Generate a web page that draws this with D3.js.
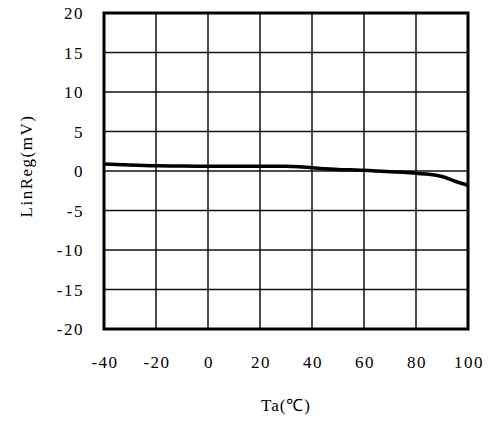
<!DOCTYPE html>
<html>
<head>
<meta charset="utf-8">
<script src="https://cdn.jsdelivr.net/npm/d3@7"></script>
<style>
body { margin: 0; background: #fff; }
text { font-family: "Liberation Serif", "Times New Roman", serif; }
</style>
</head>
<body>
<div id="chart"></div>
<script>
var width = 494
var height = 421
// temperature (C) and line regulation (mV)
var temps = [-40, -30, -20, -10, 0, 10, 20, 30, 35, 40, 45, 50, 55, 60, 65, 70, 75, 80, 85, 90, 95, 100];
var linreg = [0.9, 0.75, 0.65, 0.62, 0.6, 0.6, 0.6, 0.6, 0.55, 0.4, 0.3, 0.2, 0.15, 0.1, 0.0, -0.1, -0.15, -0.3, -0.4, -0.7, -1.3, -1.8];
var xTicks = [-40, -20, 0, 20, 40, 60, 80, 100];
var yTicks = [-20, -15, -10, -5, 0, 5, 10, 15, 20];

var margin = {left: 104, right: 26, top: 13, bottom: 92};
const svg = d3.select("#chart")
    .append('svg')
    .attr('width', width)
    .attr('height', height);

var x = d3.scaleLinear().domain([-40, 100]).range([margin.left, width - margin.right]);
var y = d3.scaleLinear().domain([-20, 20]).range([height - margin.bottom, margin.top]);

// grid
svg.append("g")
    .selectAll("line")
    .data(xTicks)
    .enter()
    .append("line")
    .attr("x1", d => x(d)).attr("x2", d => x(d))
    .attr("y1", y(-20)).attr("y2", y(20))
    .style("stroke", "#111")
    .style("stroke-width", 1.5);
svg.append("g")
    .selectAll("line")
    .data(yTicks)
    .enter()
    .append("line")
    .attr("y1", d => y(d)).attr("y2", d => y(d))
    .attr("x1", x(-40)).attr("x2", x(100))
    .style("stroke", "#111")
    .style("stroke-width", 1.5);

// tick labels
svg.append("g")
    .selectAll("text")
    .data(xTicks)
    .enter()
    .append("text")
    .attr("x", d => x(d) + 1)
    .attr("y", y(-20) + 39)
    .attr("text-anchor", "middle")
    .style("font-size", "17px")
    .style("letter-spacing", "1.5px")
    .text(d => d);
svg.append("g")
    .selectAll("text")
    .data(yTicks)
    .enter()
    .append("text")
    .attr("x", x(-40) - 20)
    .attr("y", d => y(d) + 6)
    .attr("text-anchor", "end")
    .style("font-size", "17px")
    .style("letter-spacing", "1.5px")
    .text(d => d);

// data line
svg.append("path")
    .datum(temps.map((t, i) => [t, linreg[i]]))
    .attr("d", d3.line().x(d => x(d[0])).y(d => y(d[1])).curve(d3.curveMonotoneX))
    .style("fill", "none")
    .style("stroke", "#000")
    .style("stroke-width", 3.5);

// frame
svg.append("rect")
    .attr("x", x(-40)).attr("y", y(20))
    .attr("width", x(100) - x(-40))
    .attr("height", y(-20) - y(20))
    .style("fill", "none")
    .style("stroke", "#000")
    .style("stroke-width", 3);

// axis titles
svg.append("text")
    .attr("x", x(30))
    .attr("y", 411)
    .attr("text-anchor", "middle")
    .style("font-size", "17px")
    .style("letter-spacing", "1px")
    .text("Ta(℃)");
svg.append("text")
    .attr("transform", "translate(32," + (y(0) - 5) + ") rotate(-90)")
    .attr("text-anchor", "middle")
    .style("font-size", "17px")
    .style("letter-spacing", "1.5px")
    .text("LinReg(mV)");
</script>
</body>
</html>
